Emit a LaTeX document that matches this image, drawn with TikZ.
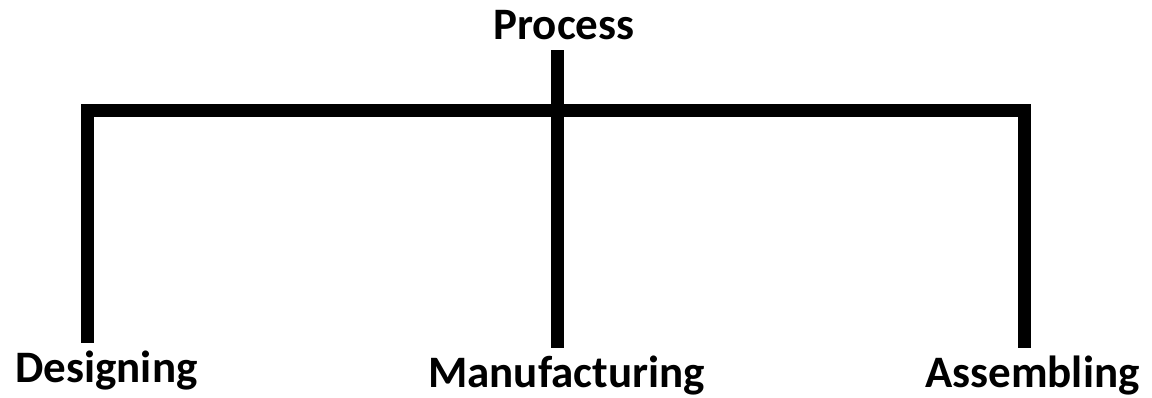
\documentclass[tikz,border=0pt]{standalone}
\usepackage{fontspec}
\setmainfont{Carlito}
\begin{document}
\begin{tikzpicture}[x=1pt, y=-1pt,
    lbl/.style={inner sep=8pt, text height=31pt, text depth=2pt, anchor=base,
                font=\fontsize{45}{54}\selectfont\bfseries},
    bar/.style={line width=13.5pt, line cap=butt, line join=miter}]
            \useasboundingbox (0,0) rectangle (1152,398);
            \node[lbl] (proc) at (564,40) {Process};
            \node[lbl] (des) at (106.5,382) {Designing};
            \node[lbl] (man) at (566.5,387) {Manufacturing};
            \node[lbl] (asm) at (1032.5,387) {Assembling};
            \coordinate (hub) at (557.5,110.5);
            \coordinate (lcorner) at (87.5,110.5);
            \coordinate (rcorner) at (1024.5,110.5);
            \draw [bar] (proc.south -| hub) -- (man.north -| hub);
            \draw [bar] (des.north -| lcorner) -- (lcorner) -- (rcorner) -- (asm.north -| rcorner);
        \end{tikzpicture}
\end{document}
